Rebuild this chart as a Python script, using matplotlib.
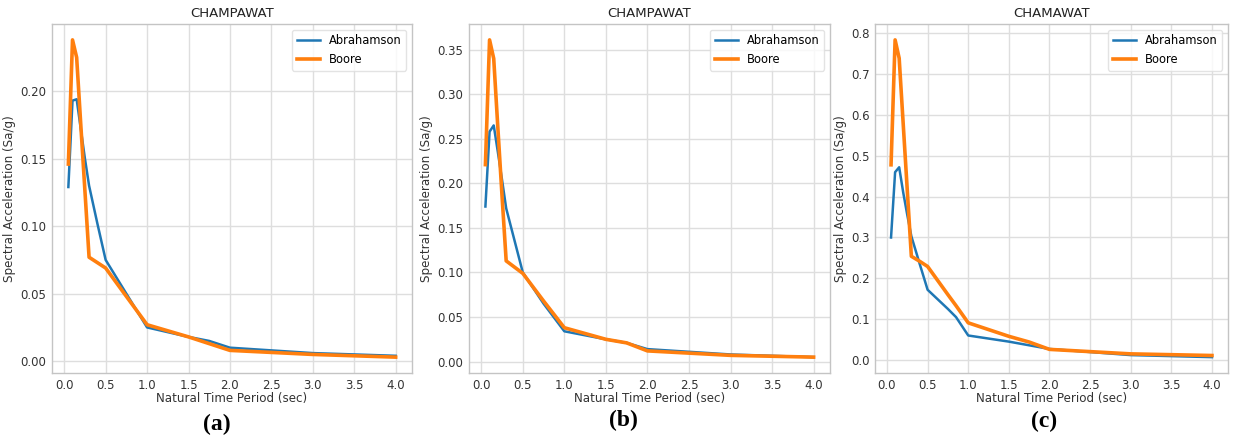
import matplotlib
matplotlib.use("Agg")
import matplotlib.pyplot as plt

plt.rcParams["font.family"] = ["DejaVu Sans"]

# ---------------- data ----------------
periods = [0.05, 0.1, 0.15, 0.2, 0.25, 0.3, 0.4, 0.5, 0.75, 1.0, 1.5, 1.75, 2.0, 3.0, 4.0]

abr_a = [0.129, 0.193, 0.194, 0.172, 0.150, 0.130, 0.102, 0.075, 0.050, 0.025, 0.018, 0.015, 0.010, 0.006, 0.004]
boo_a = [0.146, 0.238, 0.225, 0.175, 0.126, 0.077, 0.073, 0.069, 0.048, 0.027, 0.018, 0.013, 0.008, 0.005, 0.003]

abr_b = [0.174, 0.258, 0.265, 0.235, 0.204, 0.172, 0.136, 0.100, 0.065, 0.034, 0.025, 0.021, 0.014, 0.008, 0.005]
boo_b = [0.221, 0.361, 0.340, 0.262, 0.186, 0.113, 0.106, 0.099, 0.068, 0.038, 0.025, 0.021, 0.012, 0.007, 0.005]

periods_c = [0.05, 0.1, 0.15, 0.2, 0.25, 0.3, 0.4, 0.5, 0.75, 0.85, 1.0, 1.5, 1.75, 2.0, 3.0, 4.0]
abr_c = [0.300, 0.460, 0.472, 0.410, 0.355, 0.303, 0.237, 0.172, 0.125, 0.105, 0.060, 0.045, 0.036, 0.027, 0.012, 0.007]
boo_c = [0.478, 0.784, 0.739, 0.577, 0.415, 0.254, 0.242, 0.229, 0.160, 0.133, 0.091, 0.058, 0.044, 0.026, 0.015, 0.011]

titles = ["CHAMPAWAT", "CHAMPAWAT", "CHAMAWAT"]
panel_labels = ["(a)", "(b)", "(c)"]
series_names = ["Abrahamson", "Boore"]
xlabel = "Natural Time Period (sec)"
ylabel = "Spectral Acceleration (Sa/g)"

panels = [
    (periods, abr_a, periods, boo_a),
    (periods, abr_b, periods, boo_b),
    (periods_c, abr_c, periods_c, boo_c),
]

# ---------------- layout ----------------
W, H = 1234, 441
fig = plt.figure(figsize=(W / 100, H / 100), dpi=100)
fig.patch.set_facecolor("white")

boxes = [(52, 412), (469, 830), (875, 1228)]
top_px, bot_px = 24, 373
label_pos = [(217, 424), (623, 420), (1044, 421)]

blue = "#1f77b4"
orange = "#ff7f0e"

for i, ((xa, ya, xb, yb), (l, r)) in enumerate(zip(panels, boxes)):
    ax = fig.add_axes([l / W, (H - bot_px) / H, (r - l) / W, (bot_px - top_px) / H])
    ax.set_facecolor("white")
    ax.plot(xa, ya, color=blue, lw=1.8, label=series_names[0])
    ax.plot(xb, yb, color=orange, lw=2.6, label=series_names[1])
    ax.set_xticks([0.0, 0.5, 1.0, 1.5, 2.0, 2.5, 3.0, 3.5, 4.0])
    ax.grid(True, color="#dedede", lw=1.0)
    ax.set_axisbelow(True)
    for s in ax.spines.values():
        s.set_color("#c4c4c4")
        s.set_linewidth(1.0)
    ax.tick_params(length=0, pad=4, labelsize=8.5, colors="#333333")
    ax.set_title(titles[i], fontsize=9.5, pad=5, color="#222222")
    ax.set_xlabel(xlabel, fontsize=8.6, labelpad=0, color="#333333")
    ax.set_ylabel(ylabel, fontsize=8.6, labelpad=3, color="#333333")
    leg = ax.legend(loc="upper right", fontsize=8.3, frameon=True, fancybox=True)
    leg.get_frame().set_edgecolor("#dddddd")
    fig.text(label_pos[i][0] / W, 1 - label_pos[i][1] / H, panel_labels[i],
             ha="center", va="center", fontsize=17, fontweight="bold",
             family="Liberation Serif")

fig.savefig("out.png", dpi=100)
